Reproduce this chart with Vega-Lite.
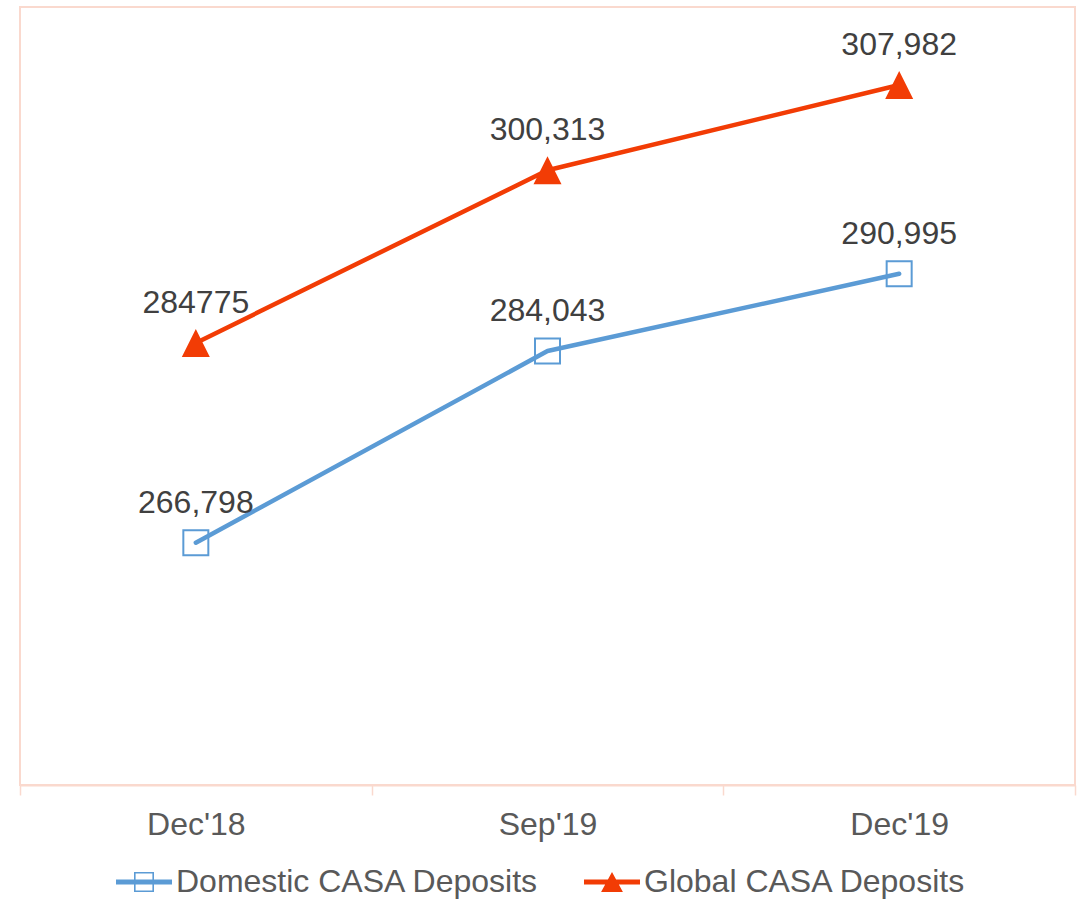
{
  "$schema": "https://vega.github.io/schema/vega-lite/v6.json",
  "width": 1055,
  "height": 778,
  "autosize": {"type": "none"},
  "padding": {"left": 20, "top": 7, "right": 3, "bottom": 116},
  "background": "#ffffff",
  "data": {
    "values": [
      {"period": "Dec'18", "series": "Domestic CASA Deposits", "value": 266798, "label": "266,798"},
      {"period": "Sep'19", "series": "Domestic CASA Deposits", "value": 284043, "label": "284,043"},
      {"period": "Dec'19", "series": "Domestic CASA Deposits", "value": 290995, "label": "290,995"},
      {"period": "Dec'18", "series": "Global CASA Deposits", "value": 284775, "label": "284775"},
      {"period": "Sep'19", "series": "Global CASA Deposits", "value": 300313, "label": "300,313"},
      {"period": "Dec'19", "series": "Global CASA Deposits", "value": 307982, "label": "307,982"}
    ]
  },
  "encoding": {
    "x": {
      "field": "period",
      "type": "ordinal",
      "sort": ["Dec'18", "Sep'19", "Dec'19"],
      "bandPosition": 0.5,
      "scale": {"type": "band", "paddingInner": 0, "paddingOuter": 0},
      "axis": {
        "title": null,
        "labelAngle": 0,
        "labelFontSize": 32,
        "labelFont": "Liberation Sans",
        "labelColor": "#595959",
        "labelPadding": 14,
        "domainColor": "#FAD9CE",
        "domainWidth": 2,
        "tickColor": "#FAD9CE",
        "tickWidth": 1.5,
        "tickSize": 10,
        "tickBand": "extent",
        "grid": false
      }
    },
    "y": {
      "field": "value",
      "type": "quantitative",
      "scale": {"domain": [245000, 315000], "zero": false, "nice": false},
      "axis": null
    }
  },
  "layer": [
    {
      "mark": {"type": "line", "strokeCap": "round", "strokeJoin": "round", "strokeWidth": 4.5, "opacity": 1},
      "encoding": {
        "color": {
          "field": "series",
          "type": "nominal",
          "scale": {"domain": ["Domestic CASA Deposits", "Global CASA Deposits"], "range": ["#5B9BD5", "#F23C05"]},
          "legend": {
            "title": null,
            "orient": "none",
            "legendX": 96,
            "legendY": 847,
            "direction": "horizontal",
            "padding": 0,
            "symbolSize": 3136,
            "symbolStrokeWidth": 0,
            "symbolOpacity": 1,
            "labelFontSize": 32,
            "labelFont": "Liberation Sans",
            "labelColor": "#595959",
            "labelOffset": 4,
            "labelLimit": 0,
            "columnPadding": 45
          }
        }
      }
    },
    {
      "transform": [{"filter": "datum.value < 0"}],
      "mark": {"type": "point", "filled": true, "opacity": 1},
      "encoding": {
        "color": {
          "field": "series",
          "type": "nominal"
        },
        "shape": {
          "field": "series",
          "type": "nominal",
          "scale": {
            "domain": ["Domestic CASA Deposits", "Global CASA Deposits"],
            "range": [
              "M-1,-0.09H1V0.09H-1ZM-0.357,-0.357H0.357V0.357H-0.357ZM-0.3,-0.3V0.3H0.3V-0.3Z",
              "M-1,-0.09H1V0.09H-1ZM0,-0.36L0.39,0.36L-0.39,0.36Z"
            ]
          },
          "legend": {
            "title": null,
            "orient": "none",
            "legendX": 96,
            "legendY": 847,
            "direction": "horizontal",
            "padding": 0,
            "symbolSize": 3136,
            "symbolStrokeWidth": 0,
            "symbolOpacity": 1,
            "labelFontSize": 32,
            "labelFont": "Liberation Sans",
            "labelColor": "#595959",
            "labelOffset": 4,
            "labelLimit": 0,
            "columnPadding": 45
          }
        }
      }
    },
    {
      "transform": [{"filter": "datum.series === 'Domestic CASA Deposits'"}],
      "mark": {"type": "point", "shape": "square", "size": 625, "filled": false, "strokeWidth": 2, "color": "#5B9BD5", "opacity": 1}
    },
    {
      "transform": [{"filter": "datum.series === 'Global CASA Deposits'"}],
      "mark": {"type": "point", "shape": "M0,-1L1,1L-1,1Z", "size": 784, "filled": true, "color": "#F23C05", "strokeWidth": 0, "opacity": 1}
    },
    {
      "mark": {"type": "text", "dy": -30, "baseline": "alphabetic", "align": "center", "fontSize": 32, "font": "Liberation Sans", "color": "#404040"},
      "encoding": {"text": {"field": "label"}}
    }
  ],
  "config": {
    "font": "Liberation Sans",
    "view": {"stroke": "#FAD9CE", "strokeWidth": 2}
  }
}
